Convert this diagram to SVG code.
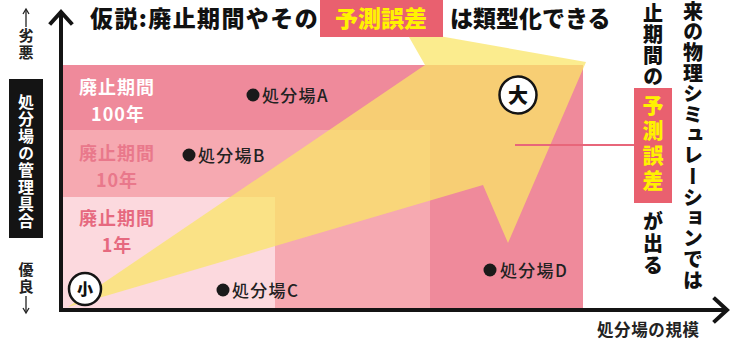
<svg xmlns="http://www.w3.org/2000/svg" width="733" height="341" viewBox="0 0 733 341">
<style>
text{font-family:"Noto Sans CJK JP","Noto Sans",sans-serif;font-weight:700}
.vt{writing-mode:vertical-rl}
.hv{font-weight:900}
.ax{stroke:#141414;stroke-width:4;fill:none;stroke-linecap:square}
.pt{fill:#1a1a1a}
.pl{font-size:17px;fill:#222;font-weight:500;letter-spacing:1.3px}
.band{font-size:18px;font-weight:700;letter-spacing:1px}
</style>
<rect width="733" height="341" fill="#ffffff"/>
<g id="regions">
<rect x="61" y="65" width="522" height="245" fill="#ef8a9b"/>
<rect x="61" y="130" width="369" height="180" fill="#f6a9b1"/>
<rect x="61" y="197" width="214" height="113" fill="#fcd9de"/>
</g>
<g id="fan">
<polygon points="68,307 425,65 405,30 586,62 508,243 483,185" fill="#fae566" fill-opacity="0.74"/>
</g>
<g id="axes">
<line class="ax" x1="61" y1="13" x2="61" y2="310"/>
<polyline class="ax" points="51,23 61,12 71,23"/>
<line class="ax" x1="61" y1="310" x2="725" y2="310"/>
<polyline class="ax" points="715,299 727,310 715,321"/>
</g>
<g id="y-label">
<line x1="26" y1="10" x2="26" y2="27" stroke="#222" stroke-width="1.3"/>
<polyline points="23,14 26,9 29,14" fill="none" stroke="#222" stroke-width="1.3"/>
<text class="vt" x="26" y="28" font-size="15" fill="#222" letter-spacing="2">劣悪</text>
<rect x="9" y="79" width="34" height="159" fill="#141414"/>
<text class="vt" x="26" y="94" font-size="16" fill="#ffffff" letter-spacing="1">処分場の管理具合</text>
<text class="vt" x="26" y="262" font-size="15" fill="#222" letter-spacing="2">優良</text>
<line x1="26" y1="296" x2="26" y2="312" stroke="#222" stroke-width="1.3"/>
<polyline points="23,308 26,313 29,308" fill="none" stroke="#222" stroke-width="1.3"/>
</g>
<g id="title">
<text class="hv" x="90" y="27" font-size="23" fill="#111" letter-spacing="1.4">仮説:廃止期間やその</text>
<rect x="320" y="0" width="123" height="37" fill="#e9606f"/>
<text class="hv" x="381" y="27" font-size="23" fill="#fff200" text-anchor="middle">予測誤差</text>
<text class="hv" x="450" y="27" font-size="23" fill="#111">は類型化できる</text>
</g>
<g id="band-100">
<text class="band" x="117" y="94" fill="#ffffff" text-anchor="middle">廃止期間</text>
<text class="band" x="118" y="121" fill="#ffffff" text-anchor="middle" letter-spacing="2">100年</text>
</g>
<g id="band-10">
<text class="band" x="117" y="160" fill="#e9788b" text-anchor="middle">廃止期間</text>
<text class="band" x="117" y="187" fill="#e9788b" text-anchor="middle" letter-spacing="2">10年</text>
</g>
<g id="band-1">
<text class="band" x="117" y="225" fill="#e6697f" text-anchor="middle">廃止期間</text>
<text class="band" x="117" y="252" fill="#e6697f" text-anchor="middle" letter-spacing="2">1年</text>
</g>
<g id="site-a">
<circle class="pt" cx="253" cy="95" r="6.5"/>
<text class="pl" x="262" y="101.5">処分場A</text>
</g>
<g id="site-b">
<circle class="pt" cx="189" cy="155" r="6.5"/>
<text class="pl" x="198" y="161.5">処分場B</text>
</g>
<g id="site-c">
<circle class="pt" cx="223" cy="290" r="6.5"/>
<text class="pl" x="232" y="296.5">処分場C</text>
</g>
<g id="site-d">
<circle class="pt" cx="490" cy="270" r="6.5"/>
<text class="pl" x="500" y="276.5">処分場D</text>
</g>
<g id="small">
<circle cx="85" cy="289" r="16" fill="#ffffff" stroke="#141414" stroke-width="2.5"/>
<text class="hv" x="85" y="295" font-size="16" fill="#111" text-anchor="middle">小</text>
</g>
<g id="large">
<circle cx="518" cy="95" r="18.5" fill="#ffffff" stroke="#141414" stroke-width="2.5"/>
<text class="hv" x="518" y="102.5" font-size="20" fill="#111" text-anchor="middle">大</text>
</g>
<g id="connectors">
<line x1="515" y1="145" x2="635" y2="145" stroke="#e8667a" stroke-width="2"/>
</g>
<g id="error-note">
<text class="vt hv" x="653" y="3" font-size="20" fill="#111" letter-spacing="1">止期間の</text>
<rect x="634" y="88" width="38" height="115" fill="#e9606f"/>
<text class="vt hv" x="653" y="95" font-size="21" fill="#fff200" letter-spacing="4">予測誤差</text>
<text class="vt hv" x="653" y="211" font-size="20" fill="#111" letter-spacing="2">が出る</text>
</g>
<g id="sim-note">
<text class="vt hv" x="693" y="1" font-size="20" fill="#111" letter-spacing="0.7">来の物理シミュレーションでは</text>
</g>
<g id="x-label">
<text x="597" y="335.5" font-size="16.5" fill="#222" font-weight="500" letter-spacing="0.6">処分場の規模</text>
</g>
</svg>
